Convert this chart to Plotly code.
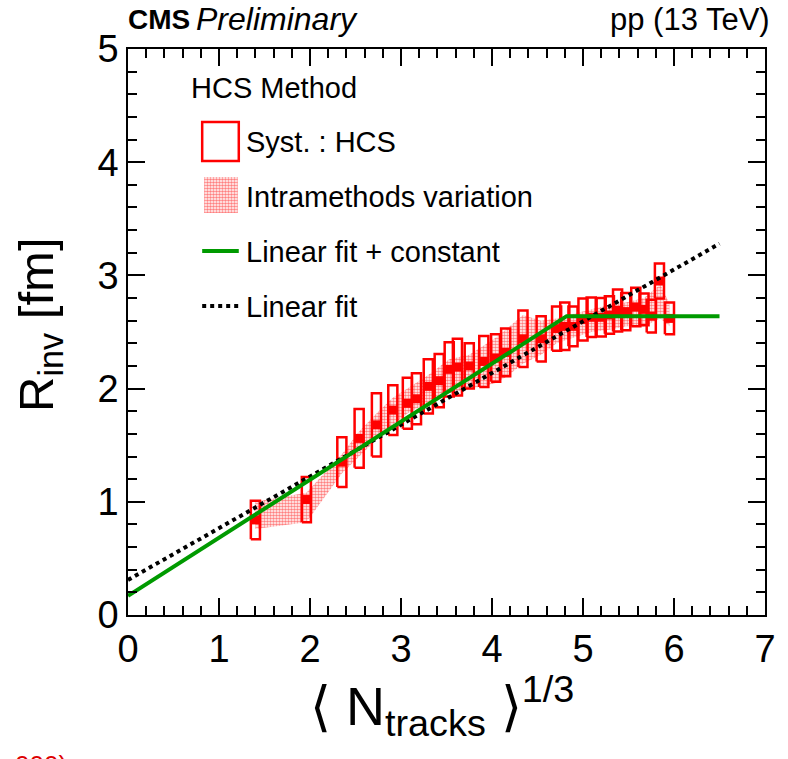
import plotly.graph_objects as go

# ---------------- data ----------------
n13 = [1.40, 1.96, 2.35, 2.54, 2.73, 2.91, 3.07, 3.17, 3.30, 3.42, 3.53, 3.62,
       3.75, 3.91, 4.04, 4.15, 4.34, 4.54, 4.71, 4.80, 4.89, 5.00, 5.09, 5.20,
       5.29, 5.38, 5.47, 5.58, 5.67, 5.75, 5.84, 5.95]
rinv = [0.84, 1.02, 1.35, 1.56, 1.68, 1.81, 1.87, 1.91, 2.02, 2.07, 2.17, 2.19,
        2.20, 2.24, 2.27, 2.32, 2.44, 2.44, 2.53, 2.55, 2.55, 2.61, 2.63, 2.63,
        2.65, 2.69, 2.68, 2.72, 2.70, 2.64, 2.95, 2.62]
syst = [0.17, 0.20, 0.22, 0.26, 0.28, 0.22, 0.225, 0.225, 0.24, 0.235, 0.24, 0.25,
        0.20, 0.225, 0.21, 0.21, 0.25, 0.20, 0.195, 0.21, 0.175, 0.185, 0.175, 0.17,
        0.165, 0.185, 0.165, 0.17, 0.14, 0.145, 0.155, 0.14]

band_x = [1.40, 1.96, 2.35, 2.54, 2.73, 2.91, 3.07, 3.30, 3.53, 3.75, 3.91, 4.04,
          4.15, 4.34, 4.54, 4.71, 4.89, 5.09, 5.29, 5.47, 5.67, 5.85, 5.95]
band_hi = [1.00, 1.08, 1.42, 1.62, 1.78, 1.92, 2.00, 2.12, 2.26, 2.30, 2.38, 2.45,
           2.52, 2.65, 2.60, 2.62, 2.66, 2.70, 2.74, 2.76, 2.80, 2.92, 2.75]
band_lo = [0.76, 0.82, 1.25, 1.40, 1.55, 1.68, 1.78, 1.88, 1.96, 2.00, 2.02, 2.05,
           2.10, 2.22, 2.30, 2.40, 2.45, 2.50, 2.52, 2.55, 2.55, 2.62, 2.55]

fitc_x = [0.0, 4.82, 6.5]          # linear fit + constant
fitc_y = [0.17, 2.64, 2.64]
lin_x = [0.0, 6.5]                 # linear fit
lin_y = [0.31, 3.28]

x_ticks = [0, 1, 2, 3, 4, 5, 6, 7]
y_ticks = [0, 1, 2, 3, 4, 5]

# ---------------- styling ----------------
FONT = "Liberation Sans"
RED = "#ff0000"
GREEN = "#009a00"
HW = 0.05  # half width of syst boxes

L, R, T, B = 128, 772, 49, 615
W, H = 788, 759


def px(xp):
    return (xp - L) / (R - L)


def py(yp):
    return (B - yp) / (B - T)


fig = go.Figure()

# intramethods band
fig.add_trace(go.Scatter(
    x=band_x + band_x[::-1], y=band_hi + band_lo[::-1],
    mode="lines", fill="toself", line=dict(width=0, color="rgba(0,0,0,0)"),
    fillcolor="rgba(0,0,0,0)",
    fillpattern=dict(shape=".", fgcolor=RED, bgcolor="rgba(0,0,0,0)", size=3, solidity=0.55),
    hoverinfo="skip", showlegend=False))

# syst boxes
bx, by = [], []
for x, y, s in zip(n13, rinv, syst):
    bx += [x - HW, x + HW, x + HW, x - HW, x - HW, None]
    by += [y - s, y - s, y + s, y + s, y - s, None]
fig.add_trace(go.Scatter(x=bx, y=by, mode="lines", line=dict(color=RED, width=2.5),
                         showlegend=False, hoverinfo="skip"))
fig.add_trace(go.Scatter(x=n13, y=rinv, mode="markers",
                         marker=dict(symbol="square", size=9, color=RED, line=dict(width=0)),
                         showlegend=False))

# fits
fig.add_trace(go.Scatter(x=lin_x, y=lin_y, mode="lines",
                         line=dict(color="black", width=4, dash="dot"), showlegend=False))
fig.add_trace(go.Scatter(x=fitc_x, y=fitc_y, mode="lines",
                         line=dict(color=GREEN, width=4), showlegend=False))

# legend pattern swatch on an overlay axis spanning the plot area (0..1)
fig.add_trace(go.Scatter(
    x=[px(205), px(239), px(239), px(205), px(205)],
    y=[py(177), py(177), py(213), py(213), py(177)],
    xaxis="x2", yaxis="y2", mode="lines", fill="toself",
    line=dict(width=0, color="rgba(0,0,0,0)"), fillcolor="rgba(0,0,0,0)",
    fillpattern=dict(shape=".", fgcolor=RED, bgcolor="rgba(0,0,0,0)", size=3, solidity=0.55),
    showlegend=False, hoverinfo="skip"))

axis_common = dict(showgrid=False, zeroline=False, showline=True, linecolor="black",
                   linewidth=1.5, mirror="allticks", ticks="inside", ticklen=17,
                   tickwidth=1.5, tickcolor="black",
                   tickfont=dict(family=FONT, size=38, color="black"))

fig.update_layout(
    width=W, height=H, autosize=False,
    margin=dict(l=L, r=W - R, t=T, b=H - B, pad=0),
    paper_bgcolor="white", plot_bgcolor="white",
    showlegend=False,
    xaxis=dict(range=[0, 7], tickvals=x_ticks, ticktext=[str(v) for v in x_ticks],
               minor=dict(dtick=0.2, ticklen=9, ticks="inside", tickcolor="black", tickwidth=1.5),
               **axis_common),
    yaxis=dict(range=[0, 5], tickvals=y_ticks, ticktext=[str(v) for v in y_ticks],
               minor=dict(dtick=0.2, ticklen=9, ticks="inside", tickcolor="black", tickwidth=1.5),
               **axis_common),
    xaxis2=dict(range=[0, 1], overlaying="x", visible=False, fixedrange=True),
    yaxis2=dict(range=[0, 1], overlaying="y", visible=False, fixedrange=True),
)

ann = []
def text(x, y, s, size, xanchor="left", yanchor="middle", color="black", angle=0, family=FONT):
    ann.append(dict(x=x, y=y, xref="paper", yref="paper", text=s, showarrow=False,
                    xanchor=xanchor, yanchor=yanchor, textangle=angle,
                    font=dict(family=family, size=size, color=color)))

# header
text(px(126), py(19), "<b>CMS</b>", 28)
text(px(195), py(19), "<i>Preliminary</i>", 32)
text(px(779), py(19), "pp (13 TeV)", 31, xanchor="right")

# axis titles
text(px(445), py(706), "⟨ N<sub>tracks</sub> ⟩<sup>1/3</sup>", 54, xanchor="center")
text(px(38), py(324), "R<sub>inv</sub> [fm]", 49, xanchor="center", angle=-90)

# legend
text(px(190), py(88), "HCS Method", 29)
text(px(245), py(142), "Syst. : HCS", 29)
text(px(245), py(197), "Intramethods variation", 29)
text(px(245), py(252), "Linear fit + constant", 29)
text(px(245), py(307), "Linear fit", 29)

# bottom-left cut red text
text(px(12), py(748), "000)", 26, yanchor="top", color="#dd0000")

fig.update_layout(annotations=ann)

fig.add_shape(type="rect", xref="paper", yref="paper",
              x0=px(203), x1=px(240), y0=py(161), y1=py(122),
              line=dict(color=RED, width=2.5), fillcolor="rgba(0,0,0,0)")
fig.add_shape(type="line", xref="paper", yref="paper",
              x0=px(203), x1=px(240), y0=py(251), y1=py(251),
              line=dict(color=GREEN, width=4))
fig.add_shape(type="line", xref="paper", yref="paper",
              x0=px(203), x1=px(240), y0=py(306), y1=py(306),
              line=dict(color="black", width=4, dash="dot"))

fig.write_html("out.html")
